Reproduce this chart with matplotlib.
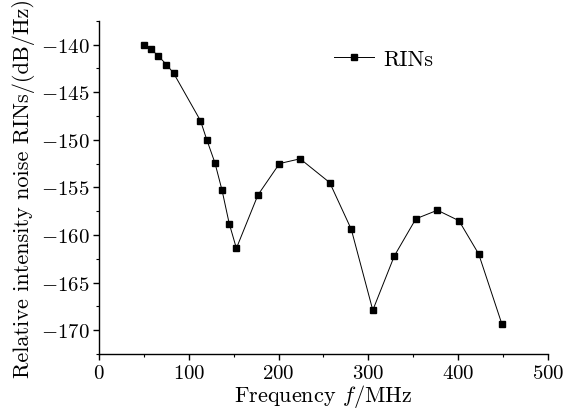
import matplotlib
matplotlib.use("Agg")
import matplotlib.pyplot as plt
from matplotlib.ticker import MultipleLocator

plt.rcParams['font.family'] = 'serif'
plt.rcParams['font.serif'] = ['cmr10', 'DejaVu Serif']
plt.rcParams['mathtext.fontset'] = 'cm'
plt.rcParams['axes.formatter.use_mathtext'] = True

freq = [50, 58, 66, 75, 83, 113, 120, 129, 137, 145, 153, 177, 201, 224,
        257, 281, 305, 329, 353, 377, 401, 423, 449]
rin = [-140.0, -140.5, -141.2, -142.1, -143.0, -148.0, -150.0, -152.4,
       -155.3, -158.8, -161.4, -155.8, -152.5, -152.0, -154.5, -159.4,
       -167.9, -162.2, -158.3, -157.4, -158.5, -162.0, -169.4]
series_label = "RINs"
xticks = [0, 100, 200, 300, 400, 500]
yticks = [-140, -145, -150, -155, -160, -165, -170]

fig = plt.figure(figsize=(5.63, 4.14), dpi=100)
ax = fig.add_axes([0.176, 0.1425, 0.797, 0.805])
ax.plot(freq, rin, color='black', linewidth=0.7, marker='s', markersize=5,
        markerfacecolor='black', markeredgecolor='black', label=series_label)
ax.set_xlim(0, 500)
ax.set_ylim(-172.5, -137.5)
ax.set_xticks(xticks)
ax.set_yticks(yticks)
ax.xaxis.set_minor_locator(MultipleLocator(50))
ax.yaxis.set_minor_locator(MultipleLocator(2.5))
for s in ['top', 'right']:
    ax.spines[s].set_visible(False)
for s in ['left', 'bottom']:
    ax.spines[s].set_linewidth(1.0)
ax.tick_params(axis='both', which='major', direction='out', length=4, width=1.0,
               labelsize=15, pad=3)
ax.tick_params(axis='both', which='minor', direction='out', length=2.5, width=0.8)
ax.set_xlabel(r"Frequency $f$/MHz", fontsize=16, labelpad=0)
ax.set_ylabel("Relative intensity noise RINs/(dB/Hz)", fontsize=16, labelpad=4)
ax.legend(loc='center left', bbox_to_anchor=(0.48, 0.886), frameon=False,
          fontsize=16, handlelength=1.8, handletextpad=0.4)
fig.savefig("out.png", dpi=100)
